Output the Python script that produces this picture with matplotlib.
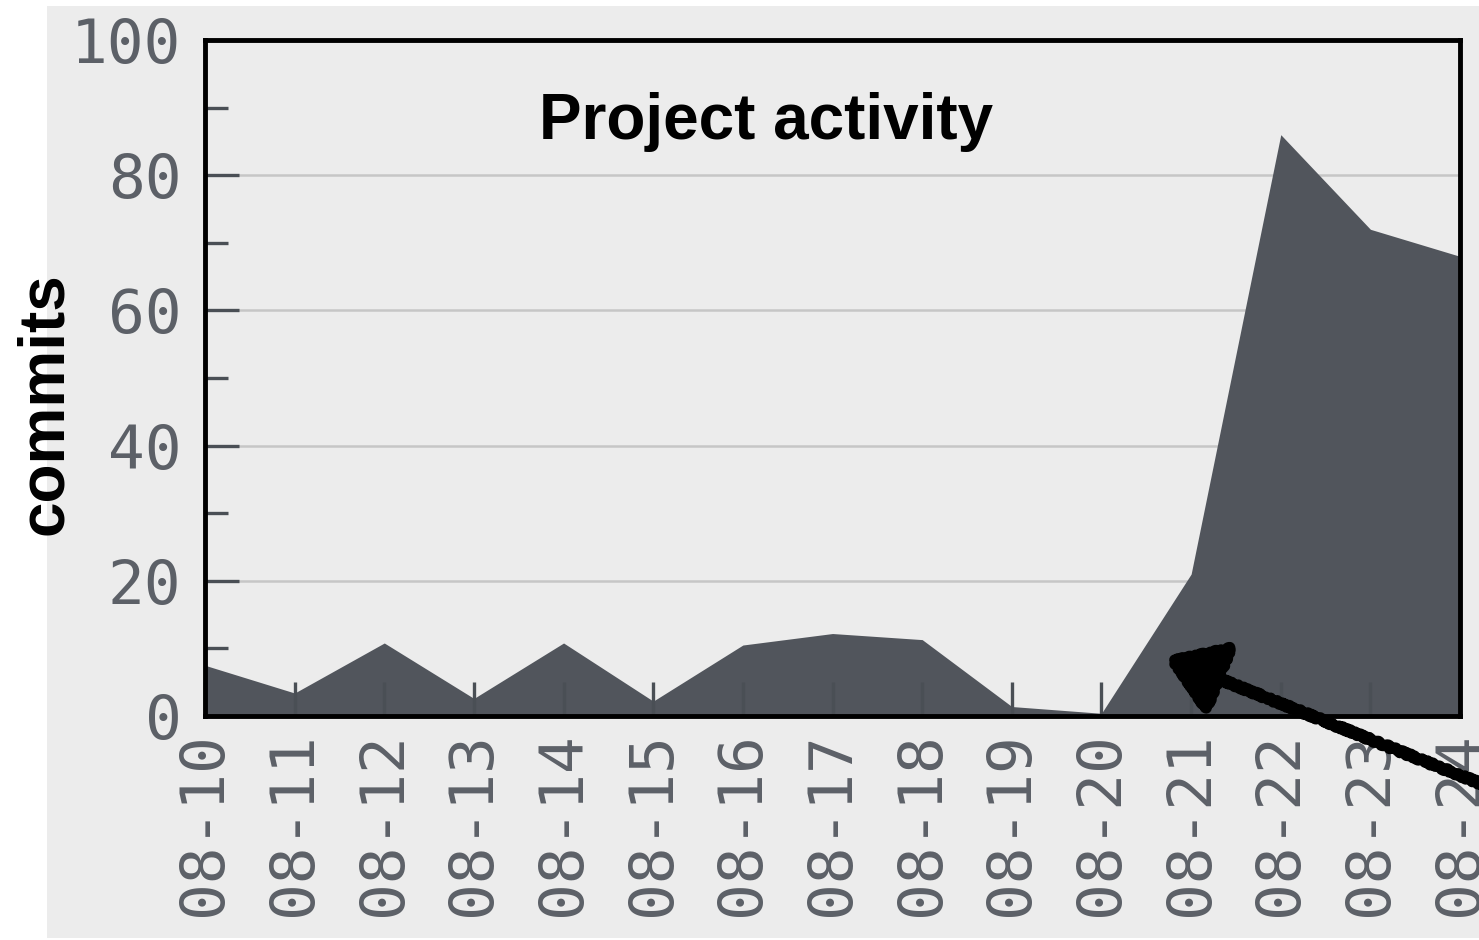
import matplotlib
matplotlib.use("Agg")
import matplotlib.pyplot as plt
from matplotlib.patches import Rectangle
from matplotlib.ticker import MultipleLocator

# daily commit counts
dates = ["08-10", "08-11", "08-12", "08-13", "08-14", "08-15", "08-16", "08-17",
         "08-18", "08-19", "08-20", "08-21", "08-22", "08-23", "08-24"]
commits = [7.5, 3.4, 10.8, 2.6, 10.8, 2.2, 10.5, 12.2, 11.3, 1.4, 0.4, 21, 86, 72, 68]
y_ticks = [0, 20, 40, 60, 80, 100]

panel_color = "#ececec"
fill_color = "#51555c"
label_color = "#5c6067"
tick_color = "#4a4f55"

fig = plt.figure(figsize=(14.79, 9.40), dpi=100)
fig.patch.set_facecolor("white")

# light gray card behind the whole chart
fig.add_artist(Rectangle((0.0318, 0.002), 1.0, 0.9915, transform=fig.transFigure,
                         facecolor=panel_color, edgecolor="none", zorder=-10))

ax = fig.add_axes([0.1386, 0.2383, 0.8486, 0.7191])
ax.set_facecolor(panel_color)

x = list(range(len(dates)))

# horizontal grid under the area
ax.hlines(y_ticks[1:-1], 0, len(dates) - 1, color="#c6c6c6", lw=1.8, zorder=0.5)
ax.fill_between(x, commits, 0, color=fill_color, lw=0, zorder=1)

ax.set_xlim(0, len(dates) - 1)
ax.set_ylim(0, 100)
ax.set_xticks(x)
ax.set_xticklabels(dates, rotation=90)
ax.set_yticks(y_ticks)
ax.yaxis.set_minor_locator(MultipleLocator(10))

mono = "DejaVu Sans Mono"
for lab in ax.get_xticklabels() + ax.get_yticklabels():
    lab.set_fontfamily(mono)
    lab.set_fontsize(44)
    lab.set_color(label_color)

ax.tick_params(axis="both", which="major", direction="in", length=24.5, width=2.4,
               color=tick_color)
ax.tick_params(axis="y", which="minor", direction="in", length=16.5, width=2.4,
               color=tick_color)
ax.tick_params(axis="y", which="major", pad=17)
ax.tick_params(axis="x", which="major", pad=12)
ax.tick_params(top=False, right=False)

for s in ax.spines.values():
    s.set_linewidth(3.5)
    s.set_color("black")
    s.set_zorder(3)

fig.text(0.518, 0.870, "Project activity", ha="center", va="center",
         fontsize=46, fontweight="bold", family="Liberation Sans")
fig.text(0.0304, 0.571, "commits", ha="center", va="center", rotation=90,
         fontsize=46, fontweight="bold", family="Liberation Sans")

# hand drawn arrow pointing at the jump
ann = ax.annotate("", xy=(10.71, 8.7), xytext=(1.05, -0.125),
                  textcoords="axes fraction", annotation_clip=False,
                  arrowprops=dict(arrowstyle="-|>,head_length=1.7,head_width=1.15",
                                  mutation_scale=20, lw=8, color="black",
                                  shrinkA=0, shrinkB=0))
ann.arrow_patch.set_sketch_params(scale=1.5, length=8, randomness=4)
ann.arrow_patch.set_zorder(5)

fig.savefig("out.png", dpi=100)
